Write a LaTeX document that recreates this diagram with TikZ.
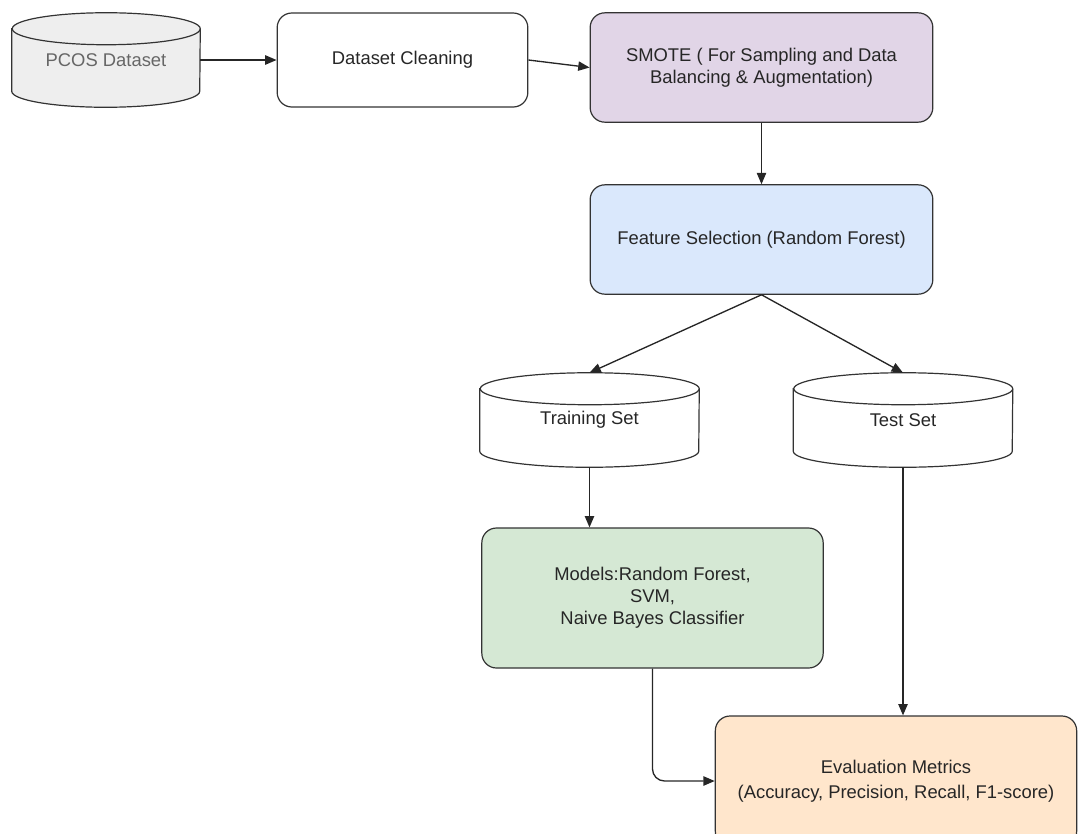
\documentclass[tikz,border=0pt]{standalone}
\usepackage{fontspec}
\setmainfont{Liberation Sans}
\usepackage{xcolor}
\usepackage{tikz}
\usetikzlibrary{arrows.meta,positioning}

\definecolor{pcosgray}{HTML}{EEEEEE}
\definecolor{smotepurple}{HTML}{E1D5E7}
\definecolor{featblue}{HTML}{DAE8FC}
\definecolor{modelgreen}{HTML}{D5E8D4}
\definecolor{evalpeach}{HTML}{FFE6CC}

\pgfdeclarelayer{background}
\pgfsetlayers{background,main}

% drum outline behind a store node: node, fill, x radius
\newcommand{\drum}[3]{%
  \begin{pgfonlayer}{background}
  \draw[fill=#2,draw=black!80,line width=0.9pt]
    ([yshift=-12pt]#1.north west) -- ([yshift=12pt]#1.south west)
    arc[start angle=180,end angle=360,x radius=#3,y radius=12pt]
    -- ([yshift=-12pt]#1.north east)
    arc[start angle=0,end angle=180,x radius=#3,y radius=12pt] -- cycle;
  \draw[draw=black!80,line width=0.9pt] ([yshift=-12pt]#1.north east)
    arc[start angle=0,end angle=-180,x radius=#3,y radius=12pt];
  \end{pgfonlayer}}

\begin{document}
\begin{tikzpicture}[x=0.75pt,y=-0.75pt,font=\fontsize{13.8}{16.5}\selectfont,
  box/.style={draw=black!80,line width=0.9pt,rounded corners=11pt,align=center,text=black!85,inner sep=0pt},
  store/.style={text=black!85,inner sep=0pt,minimum width=164.25pt,minimum height=70.5pt},
  link/.style={draw=black!85,line width=1pt,-{Triangle[length=8.5pt,width=7pt]}}]
\clip (0,0) rectangle (1078,833);

\node[store,text=black!60,minimum width=141pt] (pcos) at (106,60) {PCOS Dataset};
\node[box,minimum width=188pt,minimum height=70.5pt] (clean) at (402.5,60) {Dataset Cleaning};
\node[box,fill=smotepurple,minimum width=257pt,minimum height=82pt] (smote) at (761.5,67.5)
  {SMOTE ( For Sampling and Data\\Balancing \& Augmentation)};
\node[box,fill=featblue,minimum width=257pt,minimum height=82pt] (feat) at (761.5,239.5)
  {Feature Selection (Random Forest)};

\node[store] (train) at (589.5,420) {Training Set};
\node[store] (test) at (903,420) {Test Set};

\node[box,fill=modelgreen,minimum width=256pt,minimum height=105pt] (models) at (652.5,598)
  {Models:Random Forest,\\SVM,\\Naive Bayes Classifier};
\node[box,fill=evalpeach,minimum width=271pt,minimum height=97.5pt,font=\fontsize{13.8}{18.5}\selectfont] (eval) at (896,781)
  {Evaluation Metrics\\(Accuracy, Precision, Recall, F1-score)};

\drum{pcos}{pcosgray}{70.5pt}
\drum{train}{white}{82.125pt}
\drum{test}{white}{82.125pt}

\draw[link] (pcos) -- (clean);
\draw[link] (clean.east) -- (smote.west);
\draw[link] (smote) -- (feat);
\draw[link] (feat.south) -- (train.north);
\draw[link] (feat.south) -- (test.north);
\draw[link] (train.south) -- (train.south |- models.north);
\draw[link] (test.south) -- (test.south |- eval.north);
\draw[link,rounded corners=9pt] (models.south) |- (eval.west);
\end{tikzpicture}
\end{document}
